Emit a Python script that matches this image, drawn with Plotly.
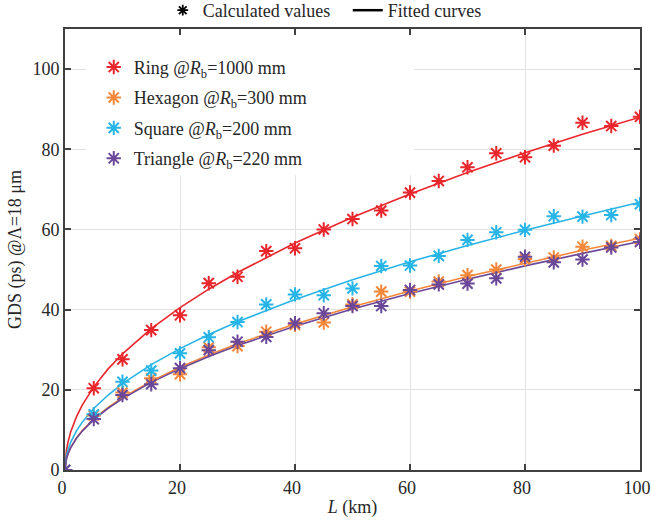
import plotly.graph_objects as go

# ---- data ----
L_km = [0, 5, 10, 15, 20, 25, 30, 35, 40, 45, 50, 55, 60, 65, 70, 75, 80, 85, 90, 95, 100]
ring = [0, 20.4, 27.6, 34.9, 38.6, 46.6, 48.2, 54.6, 55.3, 60.0, 62.6, 64.7, 69.2, 72.1, 75.5, 79.0, 78.0, 80.9, 86.6, 85.8, 88.1]
hexagon = [0, 13.6, 19.3, 22.9, 23.9, 30.6, 30.9, 34.5, 36.2, 36.8, 41.3, 44.5, 44.5, 47.0, 48.6, 50.0, 52.6, 53.0, 55.7, 55.9, 57.6]
square = [0, 13.9, 22.0, 24.8, 29.1, 33.1, 36.9, 41.3, 43.8, 43.6, 45.3, 50.9, 51.0, 53.4, 57.4, 59.3, 59.9, 63.3, 63.2, 63.6, 66.3]
triangle = [0, 12.7, 18.7, 21.4, 25.4, 29.9, 32.0, 33.2, 36.6, 39.1, 40.9, 40.9, 44.9, 46.3, 46.5, 47.8, 53.2, 51.8, 52.5, 55.5, 56.9]

fit_L = [0, 0.1, 0.25, 0.5, 1, 2, 3, 5, 7.5, 10, 15, 20, 25, 30, 40, 50, 60, 70, 80, 90, 100]
ring_fit = [0, 3.13, 4.88, 6.82, 9.53, 13.32, 16.20, 20.74, 25.22, 28.98, 35.25, 40.51, 45.1, 49.27, 56.61, 63.05, 68.86, 74.18, 79.13, 83.75, 88.0]
square_fit = [0, 2.25, 3.52, 4.95, 6.96, 9.77, 11.93, 15.33, 18.70, 21.54, 26.29, 30.28, 33.78, 36.95, 42.55, 47.48, 51.93, 56.01, 59.80, 63.36, 66.80]
hexagon_fit = [0, 1.77, 2.80, 3.98, 5.65, 8.01, 9.84, 12.73, 15.62, 18.07, 22.17, 25.64, 28.70, 31.47, 36.39, 40.73, 44.65, 48.27, 51.63, 54.80, 57.80]
triangle_fit = [0, 1.74, 2.76, 3.92, 5.57, 7.90, 9.70, 12.55, 15.40, 17.82, 21.86, 25.28, 28.30, 31.03, 35.88, 40.16, 44.03, 47.59, 50.91, 54.03, 56.99]

names = ["Ring @<i>R</i><sub>b</sub>=1000 mm", "Hexagon @<i>R</i><sub>b</sub>=300 mm",
         "Square @<i>R</i><sub>b</sub>=200 mm", "Triangle @<i>R</i><sub>b</sub>=220 mm"]
colors = ["#E8262C", "#F4873A", "#27B4E6", "#6A4798"]
points = [ring, hexagon, square, triangle]
fits = [ring_fit, hexagon_fit, square_fit, triangle_fit]

FONT = "Liberation Serif"
TXT = "#262626"
AX = "#404040"

fig = go.Figure()

for f, c in zip(fits, colors):
    fig.add_trace(go.Scatter(x=fit_L, y=f, mode="lines", line=dict(color=c, width=1.6),
                             showlegend=False, hoverinfo="skip"))

for i, (p, c, n) in enumerate(zip(points, colors, names)):
    fig.add_trace(go.Scatter(x=L_km, y=p, mode="markers", name=n, legendgroup=f"g{i}",
                             marker=dict(symbol="asterisk-open", size=12, color=c,
                                         line=dict(color=c, width=2))))

# top legend entries
fig.add_trace(go.Scatter(x=[None], y=[None], mode="markers", name="Calculated values",
                         marker=dict(symbol="asterisk-open", size=9, color="black",
                                     line=dict(color="black", width=1.8)),
                         legend="legend2"))
fig.add_trace(go.Scatter(x=[None], y=[None], mode="lines", name="Fitted curves",
                         line=dict(color="black", width=2.5), legend="legend2"))

axis_common = dict(showline=True, linecolor=AX, linewidth=2, mirror="ticks",
                   ticks="inside", ticklen=6, tickwidth=2, tickcolor=AX,
                   showgrid=True, gridcolor="#e2e2e2", gridwidth=1, zeroline=False,
                   ticklabeloverflow="allow",
                   tickfont=dict(family=FONT, size=18, color=TXT))

fig.update_layout(
    width=651, height=527,
    margin=dict(l=65, r=11, t=29, b=57, autoexpand=False),
    paper_bgcolor="white", plot_bgcolor="white",
    font=dict(family=FONT, size=18, color=TXT),
    xaxis=dict(range=[0, 100], tickvals=[0, 20, 40, 60, 80, 100], ticklabelshift=-3,
               title=dict(text="<i>L</i> (km)", font=dict(family=FONT, size=18, color=TXT), standoff=4),
               **axis_common),
    yaxis=dict(range=[0, 110], tickvals=[0, 20, 40, 60, 80, 100],
               title=dict(text="GDS (ps) @Λ=18 μm", font=dict(family=FONT, size=18, color=TXT), standoff=6),
               **axis_common),
    legend=dict(x=0.05, y=0.955, xanchor="left", yanchor="top", bgcolor="rgba(0,0,0,0)",
                font=dict(family=FONT, size=18, color=TXT), tracegroupgap=4),
    legend2=dict(orientation="h", x=0.17, xanchor="left", y=1.0, yanchor="bottom",
                 entrywidth=140, bgcolor="rgba(0,0,0,0)", font=dict(family=FONT, size=18, color=TXT)),
    shapes=[dict(type="rect", xref="x", yref="y", x0=3.65, x1=60.7, y0=73.5, y1=110,
                 fillcolor="white", line=dict(width=0), layer="between")],
)

fig.write_html("out.html")
